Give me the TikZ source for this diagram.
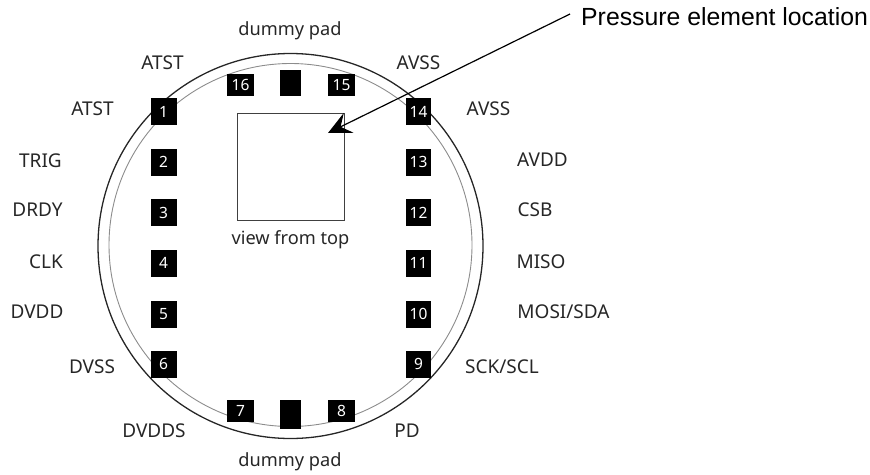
\documentclass[tikz,border=0pt]{standalone}
\usepackage{fontspec}
\setmainfont{Noto Sans}
\newfontfamily\arialfont{Liberation Sans}
\usetikzlibrary{arrows.meta}
\tikzset{
  x=1pt,y=-1pt,
  lab/.style={font=\fontsize{19}{22}\selectfont,text=black!85,inner sep=0pt,anchor=center},
  lowlab/.style={lab,font=\fontsize{18.2}{22}\selectfont},
  pad/.style={fill=black,text=white,font=\fontsize{15.5}{18}\selectfont,inner sep=0pt,anchor=center},
  sidepad/.style={pad,minimum width=26pt,minimum height=27pt},
  hpad/.style={pad,minimum width=27pt,minimum height=22pt},
  dummy/.style={pad,minimum width=21pt},
}
\begin{document}
\begin{tikzpicture}
\useasboundingbox (0,0) rectangle (870,474);
\draw[line width=1.3pt,black!85] (290.5,246) circle (192.5);
\draw[line width=0.9pt,black!45] (290.5,245) circle (181.5);
\node[sidepad] (p1) at (163.5,111.5) {1};
\node[sidepad] (p2) at (163.5,162) {2};
\node[sidepad] (p3) at (163.5,212.5) {3};
\node[sidepad] (p4) at (163.5,263) {4};
\node[sidepad] (p5) at (163.5,314) {5};
\node[sidepad] (p6) at (163.5,364) {6};
\node[sidepad,minimum width=25pt] (p14) at (418.5,111.5) {14};
\node[sidepad,minimum width=25pt] (p13) at (418.5,162) {13};
\node[sidepad,minimum width=25pt] (p12) at (418.5,212.5) {12};
\node[sidepad,minimum width=25pt] (p11) at (418.5,263) {11};
\node[sidepad,minimum width=25pt] (p10) at (418.5,314) {10};
\node[sidepad,minimum width=25pt] (p9) at (418.5,364) {9};
\node[hpad] (p16) at (240.5,85) {16};
\node[hpad] (p15) at (341.5,85) {15};
\node[hpad] (p7) at (240.5,411) {7};
\node[hpad] (p8) at (341.5,411) {8};
\node[dummy,minimum height=26pt] (dt) at (290.5,83) {};
\node[dummy,minimum height=29pt] (db) at (290.5,414.5) {};
\node[draw=black!75,line width=0.9pt,minimum width=107pt,minimum height=107.5pt,inner sep=0pt] (el) at (290.5,167) {};
\node[lowlab] (vt) at (290.5,240) {view from top};
\node[lowlab] (dpt) at (290,31) {dummy pad};
\node[lowlab] (dpb) at (290,462) {dummy pad};
\node[lab] (l1b) at (162.5,63) {ATST};
\node[lab] (l1) at (92.5,109) {ATST};
\node[lab] (l2) at (40.5,161) {TRIG};
\node[lab] (l3) at (37.5,210) {DRDY};
\node[lab] (l4) at (46,262) {CLK};
\node[lab] (l5) at (37,312) {DVDD};
\node[lab] (l6) at (92,367) {DVSS};
\node[lab] (l7) at (154,431) {DVDDS};
\node[lab] (l8) at (407,431) {PD};
\node[lab] (l15) at (418.5,63) {AVSS};
\node[lab] (l14) at (488.5,109) {AVSS};
\node[lab] (l13) at (542.5,160) {AVDD};
\node[lab] (l12) at (535,210) {CSB};
\node[lab] (l11) at (541,262) {MISO};
\node[lab] (l10) at (563.5,312) {MOSI/SDA};
\node[lab] (l9) at (502,367) {SCK/SCL};
\node[font=\arialfont\fontsize{24.8}{28}\selectfont,inner ysep=0pt,inner xsep=0pt,anchor=west] (pe) at (581,17) {Pressure element location};
\coordinate (tip) at (328,133);
\draw[line width=1.2pt,-{Stealth[length=23pt,width=22pt,inset=9pt]}] ([xshift=-11pt,yshift=3pt]pe.west) -- (tip);
\end{tikzpicture}
\end{document}
